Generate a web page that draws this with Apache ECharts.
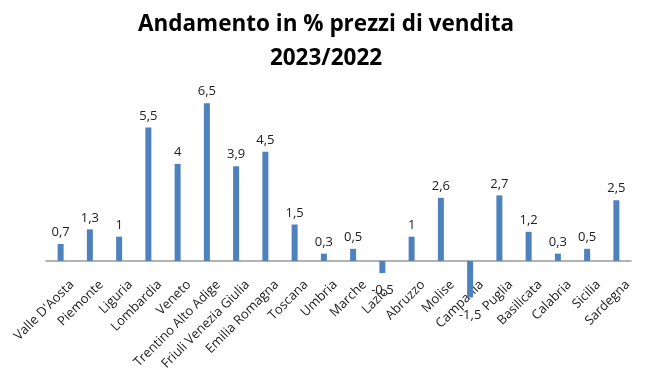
<!DOCTYPE html>
<html>
<head>
<meta charset="utf-8">
<script src="https://cdn.jsdelivr.net/npm/echarts@6/dist/echarts.min.js"></script>
<style>html,body{margin:0;padding:0;background:#fff}#c{width:652px;height:373px}</style>
</head>
<body>
<div id="c"></div>
<script>
const titleText = "Andamento in % prezzi di vendita\n2023/2022";
const categories = ["Valle D'Aosta","Piemonte","Liguria","Lombardia","Veneto","Trentino Alto Adige","Friuli Venezia Giulia","Emilia Romagna","Toscana","Umbria","Marche","Lazio   ","Abruzzo","Molise","Campania","Puglia","Basilicata","Calabria","Sicilia","Sardegna"];
const values = [0.7,1.3,1,5.5,4,6.5,3.9,4.5,1.5,0.3,0.5,-0.5,1,2.6,-1.5,2.7,1.2,0.3,0.5,2.5];

const font = "'Open Sans', sans-serif";
const chart = echarts.init(document.getElementById('c'), null, {renderer:'canvas'});
const fmt = v => String(v).replace('.', ',');
const yMin = -2, yMax = 7;
const gridTop = 91, gridBottom = 63.5, H = 373;
const plotH = H - gridTop - gridBottom;
const zeroOffset = plotH * (0 - yMin) / (yMax - yMin);
chart.setOption({
  animation:false,
  backgroundColor:'#fff',
  title:{
    text:titleText, left:'center', top:3,
    textStyle:{fontFamily:font, fontSize:22.5, fontWeight:'bold', color:'#000', lineHeight:34}
  },
  grid:{left:46, right:21, top:gridTop, bottom:gridBottom, containLabel:false, outerBoundsMode:'none'},
  xAxis:{
    type:'category', data:categories, offset:-zeroOffset,
    axisLine:{onZero:false, lineStyle:{color:'#999', width:1.5}},
    axisTick:{show:false},
    axisLabel:{interval:0, rotate:45, margin:33, padding:[0,-16,0,0], fontFamily:font, fontSize:13, color:'#222'}
  },
  yAxis:{type:'value', min:yMin, max:yMax, show:false, splitLine:{show:false}},
  series:[{
    type:'bar', barWidth:6,
    data: values.map(v => ({
      value:v,
      label:{position: v<0 ? 'bottom' : 'top', distance: v<0 ? 11 : 5}
    })),
    itemStyle:{color:'#4F81BD'},
    label:{show:true, fontFamily:font, fontSize:13, color:'#222', formatter:p=>fmt(p.value)}
  }]
});
</script>
</body>
</html>
